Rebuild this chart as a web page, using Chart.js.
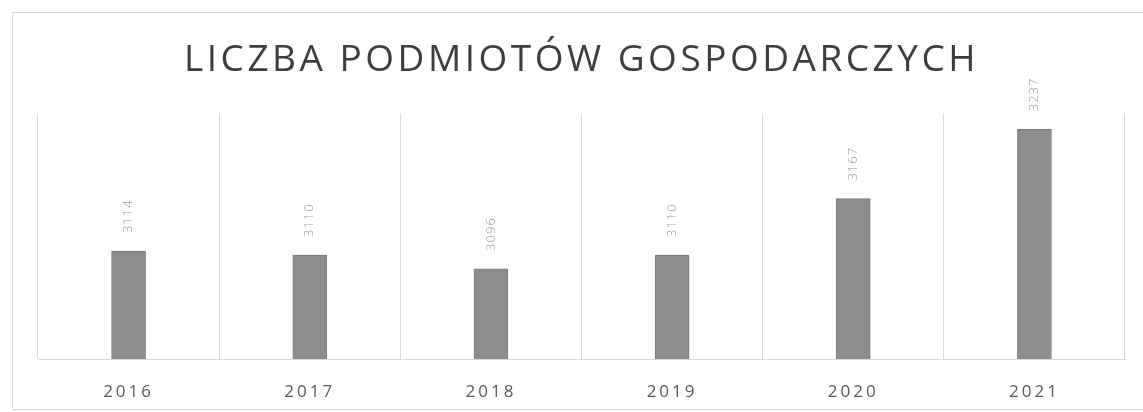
<!DOCTYPE html>
<html lang="pl">
<head>
    <meta charset="UTF-8">
    <title>Liczba podmiotów gospodarczych</title>
    <style>
        body { margin: 0; background: #ffffff; }
        #wrap { width: 1143px; height: 412px; position: relative; }
    </style>
</head>
<body>
    <div id="wrap">
        <canvas id="chart"></canvas>
    </div>

    <script src="https://cdn.jsdelivr.net/npm/chart.js"></script>
    <script>
        // Data
        const years = ['2016', '2017', '2018', '2019', '2020', '2021'];
        const counts = [3114, 3110, 3096, 3110, 3167, 3237];
        const chartTitle = 'LICZBA PODMIOTÓW GOSPODARCZYCH';

        // Frame round the chart + letter spacing for the title
        const framePlugin = {
            id: 'frame',
            beforeDraw(chart) {
                const ctx = chart.ctx;
                ctx.save();
                ctx.fillStyle = '#ffffff';
                ctx.fillRect(0, 0, chart.width, chart.height);
                ctx.strokeStyle = '#d9d9d9';
                ctx.lineWidth = 1;
                ctx.strokeRect(12.5, 12.5, chart.width + 10, 397);
                ctx.restore();
                ctx.letterSpacing = '3.5px';
            },
            beforeDatasetsDraw(chart) {
                chart.ctx.letterSpacing = '0px';
            }
        };

        // Rotated value labels above each bar
        const valueLabels = {
            id: 'valueLabels',
            afterDatasetsDraw(chart) {
                const ctx = chart.ctx;
                const meta = chart.getDatasetMeta(0);
                ctx.save();
                ctx.font = '300 13px "Open Sans", sans-serif';
                ctx.letterSpacing = '1px';
                ctx.fillStyle = '#9a9a9a';
                ctx.textAlign = 'left';
                ctx.textBaseline = 'middle';
                meta.data.forEach((bar, i) => {
                    ctx.save();
                    ctx.translate(bar.x, bar.y - 18);
                    ctx.rotate(-Math.PI / 2);
                    ctx.fillText(String(chart.data.datasets[0].data[i]), 0, 0);
                    ctx.restore();
                });
                ctx.restore();
                // x tick labels (z: 1) are drawn after this, spaced out
                ctx.letterSpacing = '3px';
            }
        };

        const ctx = document.getElementById('chart').getContext('2d');
        const chart = new Chart(ctx, {
            type: 'bar',
            data: {
                labels: years,
                datasets: [{
                    data: counts,
                    backgroundColor: '#8c8c8c',
                    borderColor: '#7a7a7a',
                    borderWidth: 1,
                    barThickness: 34
                }]
            },
            options: {
                responsive: true,
                maintainAspectRatio: false,
                animation: false,
                layout: {
                    padding: { left: 38, right: 18, top: 0, bottom: 0 }
                },
                plugins: {
                    legend: { display: false },
                    tooltip: { enabled: false },
                    title: {
                        display: true,
                        text: chartTitle,
                        color: '#3d3d3d',
                        font: { family: '"Open Sans", sans-serif', size: 37, weight: '400', lineHeight: 1.2 },
                        padding: { top: 38, bottom: 31 }
                    }
                },
                scales: {
                    x: {
                        grid: {
                            color: '#d9d9d9',
                            drawTicks: false,
                            offset: true
                        },
                        border: { color: '#d9d9d9' },
                        ticks: {
                            z: 1,
                            color: '#595959',
                            padding: 23,
                            font: { family: '"Open Sans", sans-serif', size: 17 }
                        },
                        afterFit(scale) {
                            scale.height = 53;
                        }
                    },
                    y: {
                        display: false,
                        min: 3005,
                        max: 3253
                    }
                }
            },
            plugins: [framePlugin, valueLabels]
        });
    </script>
</body>
</html>
